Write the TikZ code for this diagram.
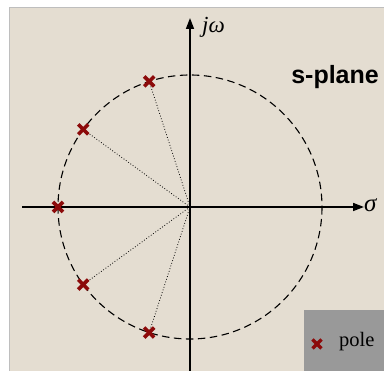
\documentclass[tikz,border=0pt]{standalone}
\usepackage{fontspec}
\setmainfont{Liberation Serif}
\newfontfamily\arialfont{Liberation Sans}
\usetikzlibrary{arrows.meta,calc}
\definecolor{bgbeige}{RGB}{228,221,209}
\definecolor{polered}{RGB}{140,10,10}
\definecolor{legendgray}{RGB}{153,153,153}
\definecolor{framegray}{RGB}{190,190,190}
\begin{document}
\begin{tikzpicture}[x=1pt,y=-1pt,
  axisline/.style={line width=1.6pt,-{Triangle[length=11pt,width=8pt]}},
  rayline/.style={dotted,line width=0.8pt}]
\useasboundingbox (0,0) rectangle (384,371);
\fill[white] (0,0) rectangle (384,371);
\fill[bgbeige] (9,8) rectangle (384,371);
\draw[framegray,line width=0.8pt] (9,371) -- (9,7.5) -- (384,7.5);
% legend box
\fill[legendgray] (304,310) rectangle (384,371);
% circle
\coordinate (O) at (190,207);
\draw[dash pattern=on 7.5pt off 4.5pt,line width=1.1pt] (O) circle[radius=132];
% axes
\coordinate (xl) at (22,207);
\coordinate (xr) at (364,207);
\coordinate (yb) at (190,371);
\coordinate (yt) at (190,18);
\draw[axisline] (xl) -- (xr);
\draw[axisline] (yb) -- (yt);
% poles
\foreach \n/\a in {p1/108,p2/144,p3/180,p4/216,p5/252}{
  \coordinate (\n) at ($(O)+(\a:132)$);
}
\foreach \n in {p1,p2,p4,p5}{
  \draw[rayline] (O) -- (\n);
}
\foreach \n in {p1,p2,p3,p4,p5}{
  \draw[polered,line width=3.6pt] ($(\n)+(-5,-5)$) -- ($(\n)+(5,5)$);
  \draw[polered,line width=3.6pt] ($(\n)+(-5,5)$) -- ($(\n)+(5,-5)$);
}
% labels
\node[anchor=west,inner sep=0pt,font=\fontsize{23}{23}\selectfont\itshape] (jw) at (202,27) {jω};
\node[anchor=west,inner sep=0pt,font=\fontsize{25}{25}\selectfont\itshape] (sig) at (364,205) {σ};
\node[anchor=east,inner sep=0pt,font=\arialfont\bfseries\fontsize{25}{25}\selectfont] (sp) at (379,77) {s-plane};
% legend
\coordinate (lx) at (317,344);
\draw[polered,line width=3.2pt] ($(lx)+(-4.5,-4.5)$) -- ($(lx)+(4.5,4.5)$);
\draw[polered,line width=3.2pt] ($(lx)+(-4.5,4.5)$) -- ($(lx)+(4.5,-4.5)$);
\node[anchor=west,inner sep=0pt,font=\fontsize{20.5}{20.5}\selectfont] (pl) at (339,342) {pole};
\end{tikzpicture}
\end{document}
